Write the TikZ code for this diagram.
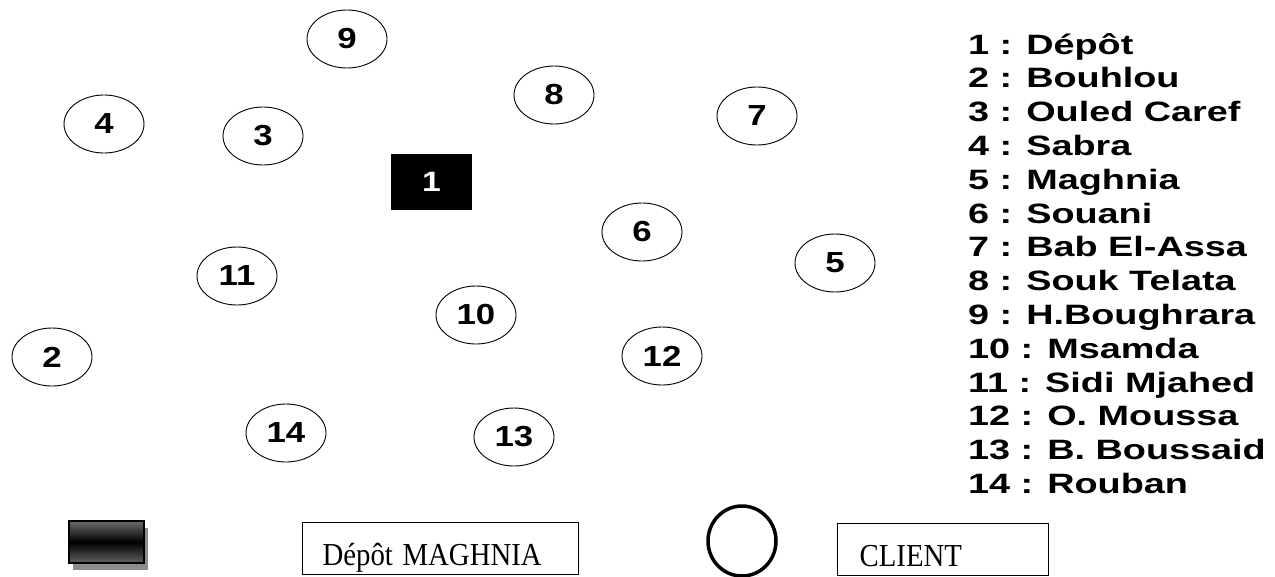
\documentclass[tikz,border=0pt]{standalone}
\usepackage{fontspec}
\setmainfont{Liberation Serif}
\newfontfamily\arialfont{Liberation Sans}
\usepackage{graphicx}
\usetikzlibrary{shapes.geometric,shadows}
\newcommand{\widetext}[1]{\scalebox{1.35}[1]{#1}}
\newcommand{\digittext}[1]{\scalebox{1.2}[1]{#1}}
\newcommand{\narrowtext}[1]{\scalebox{0.9}[1]{#1}}
\begin{document}
\begin{tikzpicture}[x=1pt,y=-1pt,
  site/.style={ellipse,draw,line width=0.9pt,minimum width=80pt,minimum height=58pt,inner sep=0pt,
    font=\arialfont\bfseries\fontsize{29}{29}\selectfont},
  depotnode/.style={rectangle,fill=black,minimum width=81pt,minimum height=56pt,inner sep=0pt,text=white,
    font=\arialfont\bfseries\fontsize{28}{28}\selectfont},
  legendtext/.style={anchor=base west,inner sep=0pt,font=\arialfont\bfseries\fontsize{28}{28}\selectfont},
  keybox/.style={draw,line width=1.2pt,anchor=north west,inner xsep=20pt,inner ysep=0pt,
    font=\fontsize{32}{32}\selectfont,align=left,text height=40pt,text depth=6pt,minimum height=52pt}]
\useasboundingbox (0,0) rectangle (1275,576);
\fill[white] (0,0) rectangle (1275,576);

% sites
\node[site] (n9)  at (347,39)  {\digittext{9}};
\node[site] (n8)  at (554,95)  {\digittext{8}};
\node[site] (n4)  at (104,124) {\digittext{4}};
\node[site] (n3)  at (263,136) {\digittext{3}};
\node[site] (n7)  at (757,116) {\digittext{7}};
\node[depotnode] (n1) at (431.5,182) {\digittext{1}};
\node[site] (n6)  at (642,232) {\digittext{6}};
\node[site] (n5)  at (835,263) {\digittext{5}};
\node[site] (n11) at (237,276) {\digittext{11}};
\node[site] (n10) at (476,315) {\digittext{10}};
\node[site] (n2)  at (52,357)  {\digittext{2}};
\node[site] (n12) at (662,356) {\digittext{12}};
\node[site] (n14) at (286,433) {\digittext{14}};
\node[site] (n13) at (514,437) {\digittext{13}};

% legend list
\foreach \i/\t in {1/{Dépôt},2/{Bouhlou},3/{Ouled Caref},4/{Sabra},5/{Maghnia},6/{Souani},
  7/{Bab El-Assa},8/{Souk Telata},9/{H.Boughrara},10/{Msamda},11/{Sidi Mjahed},
  12/{O. Moussa},13/{B. Boussaid},14/{Rouban}}
  \node[legendtext] (leg\i) at (968,{54+(\i-1)*33.8}) {\widetext{\i{} : \t}};

% key
\node[rectangle,draw=black,line width=2.5pt,minimum width=75pt,minimum height=42pt,inner sep=0pt,
  top color=black!58,bottom color=black!62,middle color=black,
  drop shadow={shadow xshift=3.5pt,shadow yshift=-7pt,fill=black!45,opacity=1}]
  (depotkey) at (106.5,542) {};
\node[keybox,text width=236pt] (depotlabel) at (302,522) {\narrowtext{Dépôt MAGHNIA}};
\node[ellipse,draw,line width=3.5pt,minimum width=68pt,minimum height=70pt,inner sep=0pt] (clientkey) at (742,541) {};
\node[keybox,text width=167pt,inner xsep=22pt] (clientlabel) at (837,523) {\narrowtext{CLIENT}};
\end{tikzpicture}
\end{document}
